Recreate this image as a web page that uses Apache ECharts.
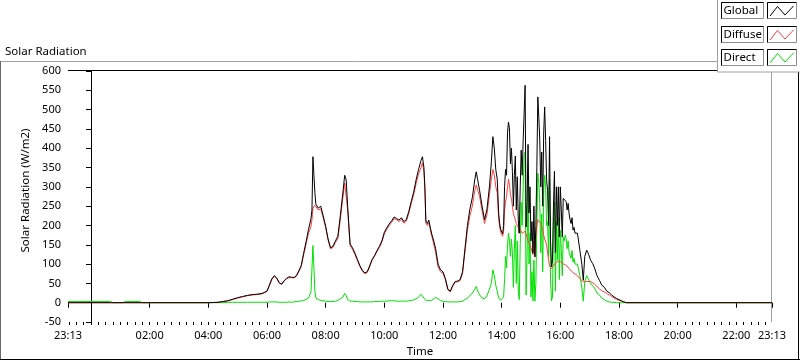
<!DOCTYPE html>
<html><head><meta charset="utf-8">
<script src="https://cdn.jsdelivr.net/npm/echarts@6/dist/echarts.min.js"></script>
<style>html,body{margin:0;padding:0;background:#fff;} #c{width:800px;height:361px;}</style>
</head><body><div id="c"></div>
<script>
const times = ['23:13','00:40','00:45','01:05','01:10','01:40','01:45','04:00','04:20','04:30',
'04:40','04:50','05:00','05:10','05:20','05:30','05:40','05:50','06:00','06:05',
'06:10','06:15','06:20','06:25','06:30','06:35','06:40','06:45','06:50','06:55',
'07:00','07:05','07:10','07:15','07:20','07:25','07:30','07:32','07:34','07:36',
'07:38','07:40','07:45','07:50','07:55','08:00','08:05','08:10','08:15','08:20',
'08:25','08:30','08:35','08:39','08:42','08:45','08:50','08:55','09:00','09:05',
'09:10','09:15','09:20','09:25','09:30','09:35','09:40','09:45','09:50','09:55',
'10:00','10:05','10:10','10:15','10:20','10:25','10:30','10:35','10:40','10:45',
'10:50','10:55','11:00','11:05','11:10','11:15','11:18','11:21','11:23','11:25',
'11:28','11:31','11:34','11:37','11:40','11:45','11:50','11:55','12:00','12:05',
'12:10','12:15','12:20','12:25','12:30','12:35','12:40','12:45','12:50','12:55',
'13:00','13:05','13:08','13:11','13:15','13:20','13:25','13:30','13:35','13:39',
'13:42','13:45','13:48','13:51','13:54','13:56','13:58','14:00','14:02','14:04',
'14:06','14:08','14:10','14:12','14:14','14:16','14:18','14:20','14:22','14:24',
'14:26','14:28','14:30','14:32','14:34','14:36','14:38','14:40','14:42','14:44',
'14:46','14:48','14:50','14:52','14:54','14:56','14:58','15:00','15:02','15:04',
'15:06','15:08','15:10','15:12','15:14','15:16','15:18','15:20','15:22','15:24',
'15:26','15:28','15:30','15:32','15:34','15:36','15:38','15:40','15:42','15:44',
'15:46','15:48','15:50','15:52','15:54','15:56','15:58','16:00','16:02','16:04',
'16:06','16:08','16:10','16:12','16:14','16:16','16:18','16:20','16:22','16:24',
'16:26','16:28','16:30','16:35','16:40','16:44','16:47','16:50','16:54','16:58',
'17:02','17:06','17:10','17:15','17:20','17:25','17:30','17:35','17:40','17:45',
'17:50','17:55','18:00','18:05','18:10','18:15','23:13'];

const globalVals = [0,0,0,0,0,0,0,0,1,3,
5,9,13,16,19,21,22,24,30,46,
62,70,64,52,48,57,63,67,66,65,
70,82,96,128,158,190,218,240,378,330,
285,255,245,250,225,198,165,142,146,160,
172,225,282,330,318,250,152,142,128,112,
96,84,77,80,95,112,122,135,146,160,
182,194,204,212,222,218,214,220,210,215,
236,262,286,318,345,368,378,350,300,212,
205,214,195,178,165,140,100,85,80,62,
35,30,45,55,56,60,80,140,200,242,
272,318,339,318,290,250,215,242,300,365,
430,400,345,320,230,205,190,185,178,200,
300,345,330,440,468,450,360,400,340,250,
330,380,240,326,215,180,300,395,330,420,
490,563,196,260,410,232,300,160,210,128,
250,119,200,350,533,480,421,300,390,250,
440,507,420,317,291,200,430,160,93,110,
250,340,130,300,200,300,170,300,240,170,
270,265,270,262,240,257,230,215,205,220,
188,195,180,180,136,100,58,120,136,125,
110,102,90,70,58,45,40,30,26,20,
15,11,8,5,2,0,0];

const diffuseVals = [0,0,0,0,0,0,0,0,1,3,
5,8,12,15,18,20,21,23,29,44,
60,68,62,51,47,56,62,65,65,64,
68,80,93,124,152,180,198,215,245,250,
252,248,240,243,220,195,162,140,143,156,
166,215,270,310,305,240,148,138,125,109,
94,82,75,78,93,110,120,132,143,157,
178,190,200,208,218,215,210,216,206,211,
231,256,279,308,333,350,362,340,292,206,
200,207,190,172,158,130,92,80,76,59,
33,28,43,53,54,57,76,132,188,225,
250,290,305,292,274,238,205,228,280,320,
345,330,300,285,215,195,182,178,172,185,
240,260,275,300,320,305,280,270,250,230,
225,215,205,200,195,180,190,185,180,178,
180,185,180,170,160,155,150,150,145,125,
160,118,170,200,215,214,210,205,200,190,
175,165,160,150,130,110,95,90,88,90,
95,100,100,105,110,110,108,110,105,102,
100,100,98,96,95,92,90,85,82,80,
78,76,75,70,62,57,54,55,55,55,
55,52,48,42,36,31,28,24,20,16,
12,9,6,4,2,0,0];

const directVals = [3,3,0,0,3,3,0,0,0,0,
1,1,1,1,1,1,1,1,1,2,
2,2,2,1,1,1,1,2,1,2,
3,3,5,6,8,12,28,30,148,90,
30,12,8,6,5,4,3,3,3,4,
6,10,14,24,18,8,4,4,3,3,
2,2,2,2,2,2,3,3,3,4,
4,4,5,5,5,4,4,4,4,4,
5,6,7,10,14,22,18,12,8,6,
5,6,5,6,8,14,10,5,4,3,
2,2,2,2,2,3,4,8,12,18,
25,35,42,30,20,12,10,18,35,50,
85,70,45,30,12,8,6,5,4,15,
60,120,90,150,180,160,120,165,130,40,
140,200,50,160,30,8,150,260,200,300,
380,390,20,120,320,100,180,15,80,5,
110,4,50,200,335,310,260,130,230,80,
290,330,300,200,210,120,320,60,5,15,
200,260,30,210,110,220,60,188,140,70,
170,160,175,165,140,160,130,125,115,135,
105,115,100,100,70,40,4,55,70,60,
50,45,38,25,20,12,8,4,2,1,
1,0,0,0,0,0,0];

const xLabelTimes = ['23:13','02:00','04:00','06:00','08:00','10:00','12:00','14:00','16:00','18:00','20:00','22:00','23:13'];
const yMin = -50, yMax = 600, yStep = 50;

function toMin(s, i) {
  const p = s.split(':').map(Number);
  let v = p[0] * 60 + p[1];
  if (i === 0 && v > 720) v -= 1440;
  return v;
}
function fmt(v) {
  const m = ((Math.round(v) % 1440) + 1440) % 1440;
  const h = Math.floor(m / 60), mm = m % 60;
  return String(h).padStart(2, '0') + ':' + String(mm).padStart(2, '0');
}
const xs = times.map(toMin);
const xMin = xs[0], xMax = xs[xs.length - 1];
const majorVals = xLabelTimes.map(toMin);
const minorVals = [];
for (let v = Math.ceil(xMin / 15) * 15; v <= xMax; v += 15) minorVals.push(v);

const F = 'Noto Sans';
const mk = arr => arr.map((v, i) => [xs[i], v]);

const chart = echarts.init(document.getElementById('c'), null, {renderer: 'canvas'});

const legendRows = [
  {name: 'Global', color: '#000000'},
  {name: 'Diffuse', color: '#ff4040'},
  {name: 'Direct', color: '#00e000'}
];
const graphics = [
  {type: 'line', shape: {x1: 0, y1: 61.5, x2: 717, y2: 61.5}, style: {stroke: '#a0a0a0', lineWidth: 1}},
  {type: 'line', shape: {x1: 0.5, y1: 61, x2: 0.5, y2: 360}, style: {stroke: '#696969', lineWidth: 1}},
  {type: 'line', shape: {x1: 0, y1: 359.5, x2: 800, y2: 359.5}, style: {stroke: '#000', lineWidth: 1}},
  {type: 'line', shape: {x1: 798.5, y1: 72, x2: 798.5, y2: 360}, style: {stroke: '#000', lineWidth: 1}},
  {type: 'line', shape: {x1: 68, y1: 70.5, x2: 772, y2: 70.5}, style: {stroke: '#000', lineWidth: 1}},
  {type: 'line', shape: {x1: 771.5, y1: 71, x2: 771.5, y2: 322}, style: {stroke: '#a0a0a0', lineWidth: 1}},
  {type: 'rect', shape: {x: 717.5, y: -2, width: 90, height: 74}, style: {fill: '#fff', stroke: '#a0a0a0', lineWidth: 1}}
];
const rowY = [2.5, 26.5, 49.5];
legendRows.forEach((r, i) => {
  const y0 = rowY[i];
  graphics.push({type: 'rect', shape: {x: 721.5, y: y0, width: 42, height: 16}, style: {fill: '#fff', stroke: '#909090', lineWidth: 1}});
  graphics.push({type: 'polyline', shape: {points: [[721.5, y0 + 16], [721.5, y0], [763.5, y0]]}, style: {stroke: '#000', lineWidth: 1, fill: null}});
  graphics.push({type: 'text', x: 723.5, y: y0 + 8.5, style: {text: r.name, font: '11.5px "Noto Sans"', fill: '#000', textVerticalAlign: 'middle'}});
  graphics.push({type: 'rect', shape: {x: 767.5, y: y0, width: 29, height: 16}, style: {fill: '#fff', stroke: '#909090', lineWidth: 1}});
  graphics.push({type: 'polyline', shape: {points: [[767.5, y0 + 16], [767.5, y0], [796.5, y0]]}, style: {stroke: '#000', lineWidth: 1, fill: null}});
  graphics.push({type: 'polyline', shape: {points: [[770, y0 + 13.5], [777.5, y0 + 4], [785, y0 + 12.5], [793.5, y0 + 3.5]]}, style: {stroke: r.color, lineWidth: 1, fill: null}});
});

const option = {
  animation: false,
  backgroundColor: '#fff',
  title: {text: 'Solar Radiation', left: 5, top: 46, padding: 0,
    textStyle: {fontFamily: F, fontSize: 11.5, fontWeight: 'normal', color: '#000'}},
  grid: {left: 68, top: 71, right: 28, bottom: 39, containLabel: false, outerBoundsMode: 'none'},
  xAxis: [
    {type: 'value', min: xMin, max: xMax, position: 'bottom',
     axisLine: {show: false},
     axisTick: {show: true, customValues: majorVals, length: 5, lineStyle: {color: '#000'}},
     axisLabel: {customValues: majorVals, formatter: v => fmt(v), margin: 8, fontFamily: F, fontSize: 11, color: '#000'},
     splitLine: {show: false},
     name: 'Time', nameLocation: 'middle', nameGap: 24,
     nameTextStyle: {fontFamily: F, fontSize: 11.5, color: '#000'}},
    {type: 'value', min: xMin, max: xMax, position: 'bottom',
     axisLine: {show: false},
     axisTick: {show: true, customValues: minorVals, length: 3, lineStyle: {color: '#000'}},
     axisLabel: {show: false}, splitLine: {show: false}}
  ],
  yAxis: {type: 'value', min: yMin, max: yMax, interval: yStep,
    axisLine: {show: true, lineStyle: {color: '#000'}},
    axisTick: {show: true, length: 5, lineStyle: {color: '#000'}},
    axisLabel: {margin: 7, fontFamily: F, fontSize: 11, color: '#000'},
    splitLine: {show: false},
    name: 'Solar Radiation (W/m2)', nameLocation: 'middle', nameGap: 30,
    nameTextStyle: {fontFamily: F, fontSize: 11.5, color: '#000', padding: [0, 0, 0, 12]}},
  series: [
    {name: 'Direct', type: 'line', data: mk(directVals), showSymbol: false, symbol: 'none',
     lineStyle: {color: '#00e000', width: 1}, itemStyle: {color: '#00e000'}, z: 2},
    {name: 'Diffuse', type: 'line', data: mk(diffuseVals), showSymbol: false, symbol: 'none',
     lineStyle: {color: '#ff4040', width: 1}, itemStyle: {color: '#ff4040'}, z: 3},
    {name: 'Global', type: 'line', data: mk(globalVals), showSymbol: false, symbol: 'none',
     lineStyle: {color: '#000000', width: 1}, itemStyle: {color: '#000'}, z: 4}
  ],
  graphic: {elements: graphics}
};
chart.setOption(option);
</script>
</body></html>
